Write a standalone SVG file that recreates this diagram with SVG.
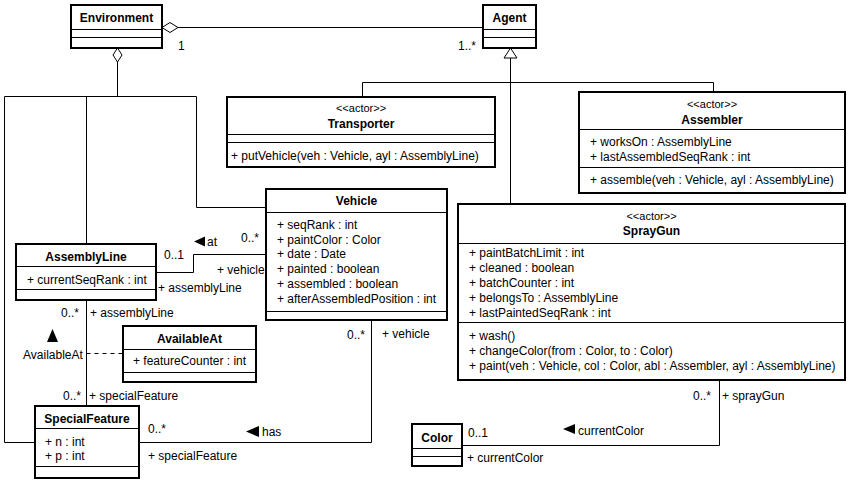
<svg xmlns="http://www.w3.org/2000/svg" width="850" height="481" viewBox="0 0 850 481">
<style>
.box{fill:#fff;stroke:#000;stroke-width:2}
.dv{stroke:#000;stroke-width:1}
.ln{fill:none;stroke:#000;stroke-width:1}
.dash{fill:none;stroke:#000;stroke-width:1;stroke-dasharray:4,4}
.hol{fill:#fff;stroke:#000;stroke-width:1}
.tri{fill:#000;stroke:none}
text{font-family:"Liberation Sans",Arial,sans-serif;font-size:12px;fill:#000}
.n{font-weight:bold;text-anchor:middle}
.st{font-size:11px;text-anchor:middle}
</style>
<rect width="850" height="481" fill="#fff"/>
<g id="connectors">
  <line class="ln" x1="178" y1="27.5" x2="483" y2="27.5"/>
  <polygon class="hol" points="162,27.5 170,22.5 178,27.5 170,32.5"/>
  <polygon class="hol" points="117.5,48 122,55 117.5,62 113,55"/>
  <path class="ln" d="M117.5,62 V96.5 M4.5,96.5 H196.5 M4.5,96.5 V442.5 H35 M86.5,96.5 V244 M196.5,96.5 V207.5 H266"/>
  <path class="ln" d="M510.5,58 V204 M362.5,97 V82.5 H713.5 V92"/>
  <polygon class="hol" points="510.5,48 517,58 504,58"/>
  <path class="ln" d="M156,272.5 H193.5 V254.5 H266"/>
  <path class="ln" d="M86.5,300 V406"/>
  <path class="dash" d="M86.5,353.5 H123"/>
  <path class="ln" d="M139,442.5 H371.5 V320"/>
  <path class="ln" d="M462,445.5 H719.5 V380"/>
  <polygon class="tri" points="194,241.5 205,236.5 205,246.5"/>
  <polygon class="tri" points="246,431.5 259,426 259,437"/>
  <polygon class="tri" points="563,429 575,424 575,434"/>
  <polygon class="tri" points="52.5,329 58,342 47,342"/>
  <text x="178" y="50">1</text>
  <text x="458" y="50">1..*</text>
  <text x="164" y="259">0..1</text>
  <text x="207" y="246">at</text>
  <text x="241" y="242">0..*</text>
  <text x="217" y="274">+ vehicle</text>
  <text x="158" y="292">+ assemblyLine</text>
  <text x="61" y="317">0..*</text>
  <text x="90" y="317">+ assemblyLine</text>
  <text x="23" y="359">AvailableAt</text>
  <text x="63" y="400">0..*</text>
  <text x="89" y="400">+ specialFeature</text>
  <text x="148" y="433">0..*</text>
  <text x="262" y="436">has</text>
  <text x="148" y="460">+ specialFeature</text>
  <text x="347" y="339">0..*</text>
  <text x="382" y="338">+ vehicle</text>
  <text x="468" y="437">0..1</text>
  <text x="578" y="435">currentColor</text>
  <text x="467" y="462">+ currentColor</text>
  <text x="693" y="400">0..*</text>
  <text x="722" y="400">+ sprayGun</text>
</g>
<g id="environment">
  <rect class="box" x="71" y="5" width="91" height="43"/>
  <line class="dv" x1="71" y1="29.5" x2="162" y2="29.5"/>
  <line class="dv" x1="71" y1="37.5" x2="162" y2="37.5"/>
  <text class="n" x="116.5" y="22">Environment</text>
</g>
<g id="agent">
  <rect class="box" x="483" y="5" width="53" height="43"/>
  <line class="dv" x1="483" y1="29.5" x2="536" y2="29.5"/>
  <line class="dv" x1="483" y1="37.5" x2="536" y2="37.5"/>
  <text class="n" x="509.5" y="22">Agent</text>
</g>
<g id="transporter">
  <rect class="box" x="227" y="97" width="268" height="70"/>
  <line class="dv" x1="227" y1="134.5" x2="495" y2="134.5"/>
  <line class="dv" x1="227" y1="142.5" x2="495" y2="142.5"/>
  <text class="st" x="361" y="112">&lt;&lt;actor&gt;&gt;</text>
  <text class="n" x="361" y="128">Transporter</text>
  <text x="231" y="160">+ putVehicle(veh : Vehicle, ayl : AssemblyLine)</text>
</g>
<g id="assembler">
  <rect class="box" x="579" y="92" width="266" height="101"/>
  <line class="dv" x1="579" y1="129.5" x2="845" y2="129.5"/>
  <line class="dv" x1="579" y1="167.5" x2="845" y2="167.5"/>
  <text class="st" x="712" y="108">&lt;&lt;actor&gt;&gt;</text>
  <text class="n" x="712" y="124">Assembler</text>
  <text x="590" y="146">+ worksOn : AssemblyLine</text>
  <text x="590" y="161">+ lastAssembledSeqRank : int</text>
  <text x="590" y="184">+ assemble(veh : Vehicle, ayl : AssemblyLine)</text>
</g>
<g id="vehicle">
  <rect class="box" x="266" y="189" width="181" height="131"/>
  <line class="dv" x1="266" y1="212.5" x2="447" y2="212.5"/>
  <line class="dv" x1="266" y1="311.5" x2="447" y2="311.5"/>
  <text class="n" x="356.5" y="205">Vehicle</text>
  <text x="277" y="229">+ seqRank : int</text>
  <text x="277" y="244">+ paintColor : Color</text>
  <text x="277" y="258">+ date : Date</text>
  <text x="277" y="273">+ painted : boolean</text>
  <text x="277" y="288">+ assembled : boolean</text>
  <text x="277" y="303">+ afterAssembledPosition : int</text>
</g>
<g id="assemblyline">
  <rect class="box" x="16" y="244" width="140" height="56"/>
  <line class="dv" x1="16" y1="266.5" x2="156" y2="266.5"/>
  <line class="dv" x1="16" y1="289.5" x2="156" y2="289.5"/>
  <text class="n" x="86" y="261">AssemblyLine</text>
  <text x="27" y="284">+ currentSeqRank : int</text>
</g>
<g id="availableat">
  <rect class="box" x="123" y="326" width="133" height="56"/>
  <line class="dv" x1="123" y1="349.5" x2="256" y2="349.5"/>
  <line class="dv" x1="123" y1="372.5" x2="256" y2="372.5"/>
  <text class="n" x="189.5" y="343">AvailableAt</text>
  <text x="133" y="365">+ featureCounter : int</text>
</g>
<g id="specialfeature">
  <rect class="box" x="35" y="406" width="104" height="72"/>
  <line class="dv" x1="35" y1="428.5" x2="139" y2="428.5"/>
  <line class="dv" x1="35" y1="466.5" x2="139" y2="466.5"/>
  <text class="n" x="87" y="423">SpecialFeature</text>
  <text x="45" y="446">+ n : int</text>
  <text x="45" y="460">+ p : int</text>
</g>
<g id="spraygun">
  <rect class="box" x="458" y="204" width="387" height="176"/>
  <line class="dv" x1="458" y1="243.5" x2="845" y2="243.5"/>
  <line class="dv" x1="458" y1="322.5" x2="845" y2="322.5"/>
  <text class="st" x="651.5" y="220">&lt;&lt;actor&gt;&gt;</text>
  <text class="n" x="651.5" y="235">SprayGun</text>
  <text x="469" y="257">+ paintBatchLimit : int</text>
  <text x="469" y="272">+ cleaned : boolean</text>
  <text x="469" y="287">+ batchCounter : int</text>
  <text x="469" y="302">+ belongsTo : AssemblyLine</text>
  <text x="469" y="317">+ lastPaintedSeqRank : int</text>
  <text x="469" y="340">+ wash()</text>
  <text x="469" y="355">+ changeColor(from : Color, to : Color)</text>
  <text x="469" y="370">+ paint(veh : Vehicle, col : Color, abl : Assembler, ayl : AssemblyLine)</text>
</g>
<g id="color">
  <rect class="box" x="412" y="424" width="50" height="42"/>
  <line class="dv" x1="412" y1="448.5" x2="462" y2="448.5"/>
  <line class="dv" x1="412" y1="456.5" x2="462" y2="456.5"/>
  <text class="n" x="437" y="442">Color</text>
</g>
</svg>
